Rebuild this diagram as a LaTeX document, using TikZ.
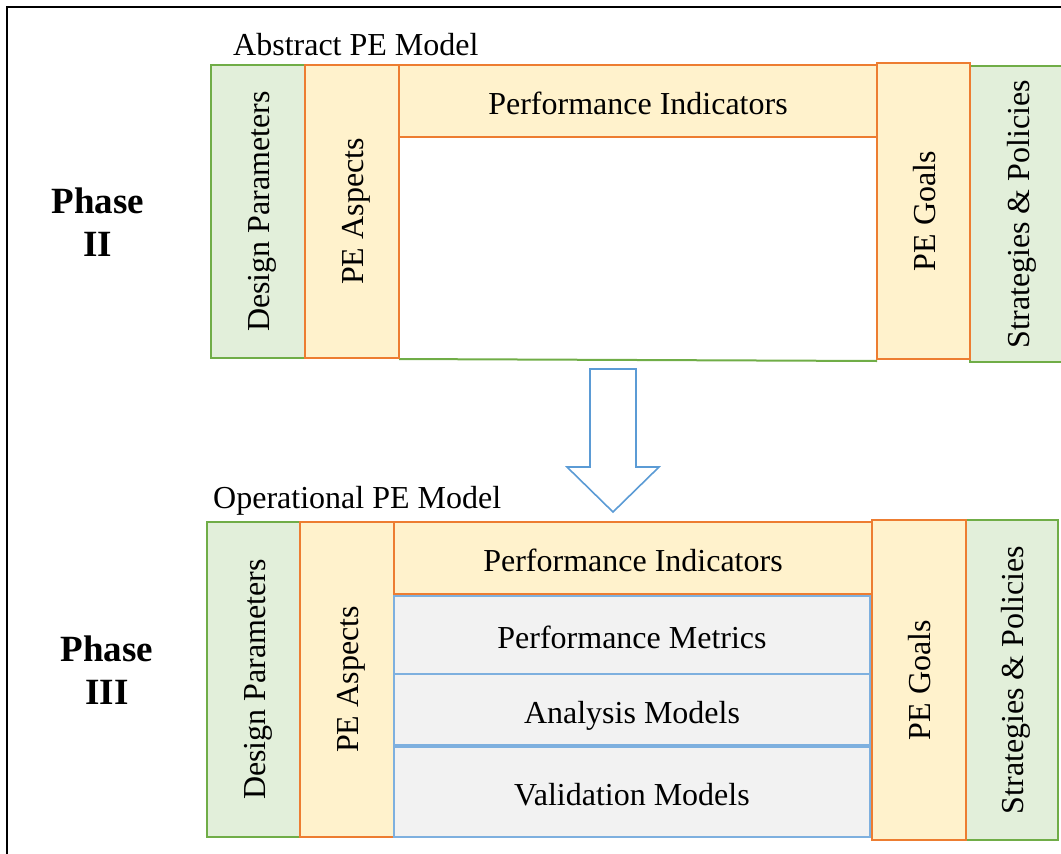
\documentclass[tikz,border=0pt]{standalone}
\usepackage{fontspec}
\setmainfont{Liberation Serif}
\usepackage{graphicx}
\definecolor{grnline}{HTML}{70AD47}
\definecolor{grnfill}{HTML}{E2EFDA}
\definecolor{orgline}{HTML}{ED7D31}
\definecolor{orgfill}{HTML}{FFF2CC}
\definecolor{bluline}{HTML}{7EB0DF}
\definecolor{blufill}{HTML}{F2F2F2}
\definecolor{arrblue}{HTML}{5B9BD5}
% vertical label, reading bottom to top, centred on its cell
\newcommand\vlab[1]{\rotatebox{90}{\raisebox{-11.5pt}[0pt][0pt]{#1}}}
\tikzset{
  lbl/.style={font=\fontsize{32}{34}\selectfont},
  phase/.style={font=\fontsize{37}{43}\selectfont\bfseries, align=center},
  cell/.style={rectangle, inner sep=0pt, outer sep=0pt, lbl,
               text height=30pt, text depth=3pt},
  greencell/.style={cell, draw=grnline, fill=grnfill, line width=2pt},
  orangecell/.style={cell, draw=orgline, fill=orgfill, line width=2.5pt},
  bluecell/.style={cell, draw=bluline, fill=blufill, line width=1.6pt},
  vcell/.style={text height=, text depth=},
  title/.style={lbl, inner sep=0pt, anchor=base west},
}
\begin{document}
\begin{tikzpicture}[x=1pt, y=-1pt]
\useasboundingbox (0,0) rectangle (1061,854);

% open frame (left and top edges)
\draw[line width=2pt, black] (7,870) -- (7,7) -- (1075,7);

% ---------------- Phase II : abstract model ----------------
\node[phase] (ph2) at (98,222) {Phase\\II};
\node[title] (abs) at (233,55) {Abstract PE Model};

\draw[grnline, line width=2pt] (399,359) -- (877,361);
\node[greencell, vcell, minimum width=94pt, minimum height=293pt] (dp1) at (258,211.5)
  {\vlab{Design Parameters}};
\node[greencell, vcell, minimum width=96pt, minimum height=296pt] (sp1) at (1018,214)
  {\vlab{Strategies \& Policies}};
\node[orangecell, vcell, minimum width=94pt, minimum height=293pt] (pa1) at (352,211.5)
  {\vlab{PE Aspects}};
\node[orangecell, minimum width=478pt, minimum height=72pt] (pi1) at (638,101)
  {Performance Indicators};
\node[orangecell, vcell, minimum width=93pt, minimum height=296pt] (pg1) at (923.5,211)
  {\vlab{PE Goals}};

% refinement arrow
\draw[arrblue, line width=1.6pt, fill=white, line join=miter]
  (590,369) -- (636,369) -- (636,467) -- (659,467) -- (613,512)
  -- (567,467) -- (590,467) -- cycle;

% ---------------- Phase III : operational model ----------------
\node[phase] (ph3) at (107,670) {Phase\\III};
\node[title] (ope) at (213,508) {Operational PE Model};

\node[greencell, vcell, minimum width=93pt, minimum height=315pt] (dp2) at (253.5,679.5)
  {\vlab{Design Parameters}};
\node[greencell, vcell, minimum width=92pt, minimum height=320pt] (sp2) at (1012,680)
  {\vlab{Strategies \& Policies}};
\node[orangecell, vcell, minimum width=94pt, minimum height=315pt] (pa2) at (347,679.5)
  {\vlab{PE Aspects}};
\node[orangecell, minimum width=478pt, minimum height=72pt] (pi2) at (633,558)
  {Performance Indicators};
\node[bluecell, minimum width=476pt, minimum height=78pt] (pm) at (632,635)
  {Performance Metrics};
\node[bluecell, minimum width=476pt, minimum height=71pt] (am) at (632,709.5)
  {Analysis Models};
\node[bluecell, minimum width=476pt, minimum height=90pt] (vm) at (632,792)
  {Validation Models};
\node[orangecell, vcell, minimum width=94pt, minimum height=320pt] (pg2) at (919,680)
  {\vlab{PE Goals}};
\end{tikzpicture}
\end{document}
